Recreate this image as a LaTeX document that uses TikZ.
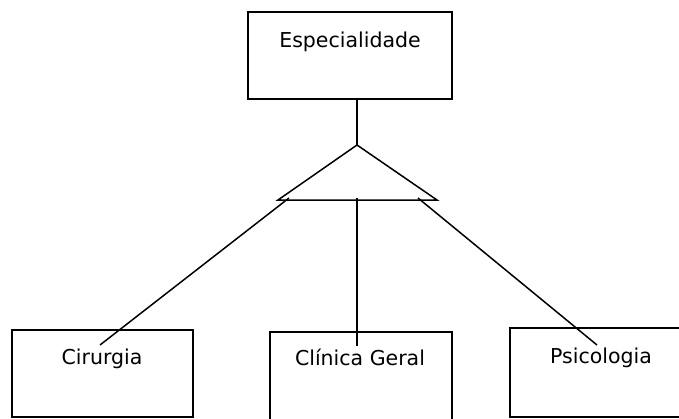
\documentclass[tikz,border=0pt]{standalone}
\usepackage{fontspec}
\setmainfont{DejaVu Sans}
\begin{document}
\begin{tikzpicture}[x=1pt,y=-1pt,
  box/.style={draw,line width=1.8pt,rectangle,inner sep=0pt},
  lbl/.style={font=\fontsize{20.5}{22}\selectfont,anchor=base,inner sep=0pt},
  conn/.style={line width=1.5pt}]
\useasboundingbox (0,0) rectangle (679,418);
\clip (0,0) rectangle (679,418);
% boxes
\node[box,minimum width=204pt,minimum height=87pt] (esp) at (350,55.5) {};
\node[box,minimum width=181pt,minimum height=87pt] (cir) at (102.5,373.5) {};
\node[box,minimum width=182pt,minimum height=100pt] (cli) at (361,382) {};
\node[box,minimum width=190pt,minimum height=89pt] (psi) at (605,372.5) {};
% labels
\node[lbl] (tesp) at (350,47) {Especialidade};
\node[lbl] (tcir) at (102,364) {Cirurgia};
\node[lbl] (tcli) at (360,365) {Clínica Geral};
\node[lbl] (tpsi) at (601,363) {Psicologia};
% triangle
\coordinate (apex) at (357,145);
\coordinate (bl) at (278,200);
\coordinate (br) at (437,200);
\draw[conn] (bl) -- (apex) -- (br) -- cycle;
\coordinate (l0) at (289,198);
\coordinate (m0) at (357,198);
\coordinate (r0) at (418,198);
\coordinate (l1) at (100,345);
\coordinate (m1) at (357,346);
\coordinate (r1) at (597,345);
\draw[conn] (esp.south -| apex) -- (apex);
\draw[conn] (l0) -- (l1);
\draw[conn] (m0) -- (m1);
\draw[conn] (r0) -- (r1);
\end{tikzpicture}
\end{document}
